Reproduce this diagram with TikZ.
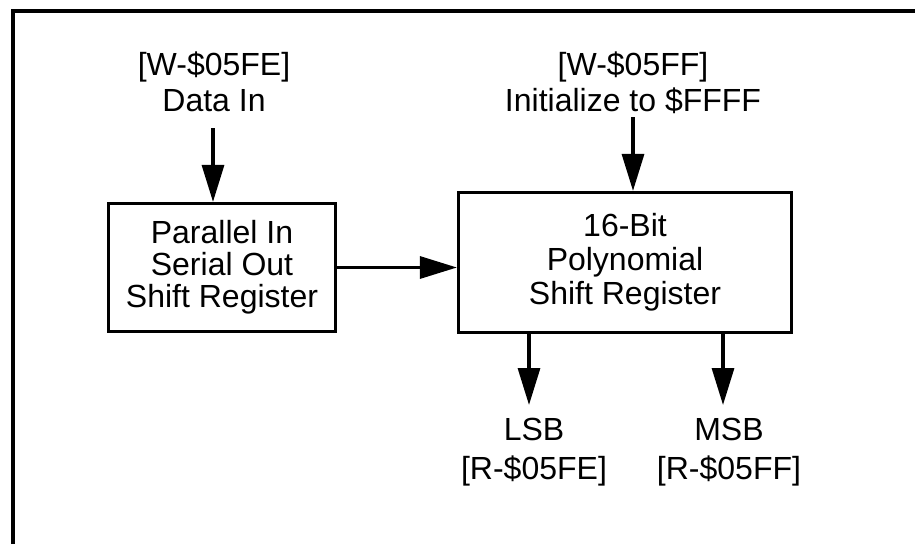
\documentclass[tikz,border=0pt]{standalone}
\usepackage{fontspec}
\setmainfont{Liberation Sans}
\usetikzlibrary{arrows.meta}
\begin{document}
\begin{tikzpicture}[x=1pt,y=-1pt,
  box/.style={draw,line width=3.2pt,inner sep=0pt,align=center,font=\fontsize{32}{32}\selectfont},
  lbl/.style={inner sep=0pt,align=center,anchor=north,font=\fontsize{32}{36}\selectfont},
  arr/.style={line width=3.2pt,-{Triangle[length=37pt,width=22pt]}}]
\useasboundingbox (0,0) rectangle (915,544);
% frame (left and top edges visible)
\coordinate (fBL) at (13,544);
\coordinate (fTL) at (13,10.5);
\coordinate (fTR) at (915,10.5);
\draw[line width=4pt] (fBL) -- (fTL) -- (fTR);
% boxes
\node[box,minimum width=227pt,minimum height=128pt] (lbox) at (222,267.5)
  {Parallel In\\Serial Out\\Shift Register};
\node[box,font=\fontsize{32}{34}\selectfont,minimum width=333pt,minimum height=140pt] (rbox) at (625,262.5)
  {16-Bit\\Polynomial\\Shift Register};
% labels
\node[lbl] (din) at (214,52) {{[}W-\$05FE{]}\\Data In};
\node[lbl] (init) at (633,52) {{[}W-\$05FF{]}\\Initialize to \$FFFF};
\node[lbl,font=\fontsize{32}{39}\selectfont] (lsb) at (534,418) {LSB\\{[}R-\$05FE{]}};
\node[lbl,font=\fontsize{32}{39}\selectfont] (msb) at (729,418) {MSB\\{[}R-\$05FF{]}};
% connectors
\coordinate (dinT) at (213,128);
\draw[arr] (dinT) -- (dinT |- lbox.north);
\coordinate (initT) at (633,117);
\draw[arr] (initT) -- (initT |- rbox.north);
\draw[arr] (lbox.east) -- (lbox.east -| rbox.west);
\coordinate (lsbT) at (529,405);
\draw[arr] (lsbT |- rbox.south) -- (lsbT);
\coordinate (msbT) at (723,405);
\draw[arr] (msbT |- rbox.south) -- (msbT);
\end{tikzpicture}
\end{document}
